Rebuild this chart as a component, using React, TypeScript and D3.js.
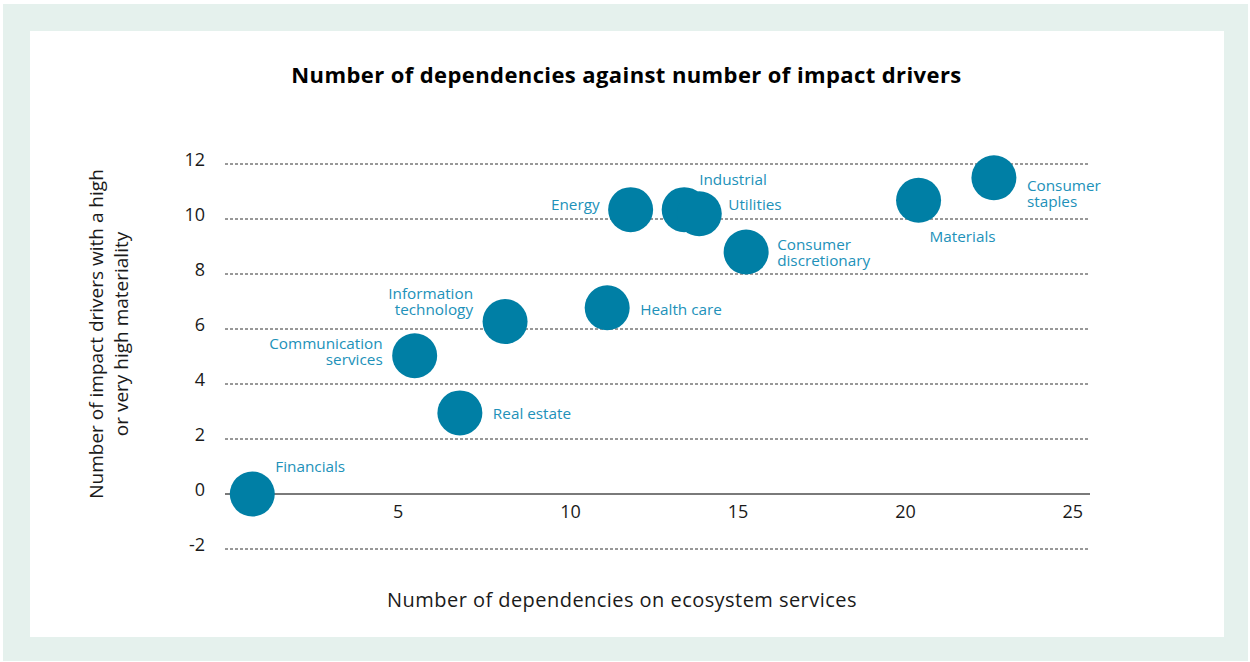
import React from "react";
import * as d3 from "d3";

const sectors = [
  "Financials",
  "Communication services",
  "Real estate",
  "Information technology",
  "Health care",
  "Energy",
  "Industrial",
  "Utilities",
  "Consumer discretionary",
  "Materials",
  "Consumer staples",
];
const dependencies = [0.8, 5.65, 7.0, 8.35, 11.4, 12.1, 13.7, 14.15, 15.55, 20.7, 22.95];
const impactDrivers = [0, 5.03, 2.95, 6.27, 6.77, 10.34, 10.34, 10.19, 8.8, 10.68, 11.5];

const xTicks = [5, 10, 15, 20, 25];
const yTicks = [-2, 0, 2, 4, 6, 8, 10, 12];

const titleText = "Number of dependencies against number of impact drivers";
const xAxisTitle = "Number of dependencies on ecosystem services";
const yAxisTitleLines = ["Number of impact drivers with a high", "or very high materiality"];

// label placement (layout, not data): dx, dy from bubble centre, anchor, lines
const labelLayout: { [k: string]: { dx: number; dy: number; anchor: string; lines: string[] } } = {
  Financials: { dx: 23, dy: -28, anchor: "start", lines: ["Financials"] },
  "Communication services": { dx: -32, dy: -5, anchor: "end", lines: ["Communication", "services"] },
  "Real estate": { dx: 33, dy: 0, anchor: "start", lines: ["Real estate"] },
  "Information technology": { dx: -32, dy: -21, anchor: "end", lines: ["Information", "technology"] },
  "Health care": { dx: 33, dy: 1, anchor: "start", lines: ["Health care"] },
  Energy: { dx: -31, dy: -6, anchor: "end", lines: ["Energy"] },
  Industrial: { dx: 15, dy: -31, anchor: "start", lines: ["Industrial"] },
  Utilities: { dx: 29, dy: -10, anchor: "start", lines: ["Utilities"] },
  "Consumer discretionary": { dx: 31, dy: 0, anchor: "start", lines: ["Consumer", "discretionary"] },
  Materials: { dx: 11, dy: 36, anchor: "start", lines: ["Materials"] },
  "Consumer staples": { dx: 33, dy: 15, anchor: "start", lines: ["Consumer", "staples"] },
};

const W = 1250;
const H = 662;
const FONT = "'Open Sans', 'Noto Sans', sans-serif";

export default function App() {
  const x = d3.scaleLinear().domain([0, 25.82]).range([225.5, 1090]);
  const y = d3.scaleLinear().domain([-2, 12]).range([549, 164]);
  const r = 22.5;
  const bubble = "#007fa5";
  const labelColor = "#2191b9";
  const lineH = 16;

  return (
    <div style={{ position: "absolute", left: 0, top: 0, width: W, height: H }}>
      <svg width={W} height={H} style={{ display: "block", fontFamily: FONT }}>
        <rect x={0} y={0} width={W} height={H} fill="#ffffff" />
        <rect x={3} y={4} width={1245} height={657} fill="#e5f1ed" />
        <rect x={30} y={31} width={1194} height={606} fill="#ffffff" />

        <text
          x={626.5}
          y={83}
          textAnchor="middle"
          fontWeight={700}
          fontSize={22}
          letterSpacing={0.4}
          fill="#000"
        >
          {titleText}
        </text>

        {yTicks
          .filter((t) => t !== 0)
          .map((t) => (
            <line
              key={"g" + t}
              x1={225}
              x2={1090}
              y1={y(t)}
              y2={y(t)}
              stroke="#333"
              strokeWidth={1}
              strokeDasharray="3,2"
            />
          ))}
        <line x1={225} x2={1090} y1={y(0)} y2={y(0)} stroke="#7a7a7a" strokeWidth={2} />

        {yTicks.map((t) => (
          <text
            key={"yl" + t}
            x={205}
            y={y(t) - 5}
            textAnchor="end"
            dominantBaseline="central"
            fontSize={18}
            fill="#1a1a1a"
          >
            {t}
          </text>
        ))}
        {xTicks.map((t) => (
          <text key={"xl" + t} x={x(t)} y={511} textAnchor="start" dominantBaseline="central" fontSize={18} fill="#1a1a1a">
            {t}
          </text>
        ))}

        <text
          x={622}
          y={599}
          textAnchor="middle"
          dominantBaseline="central"
          fontSize={20}
          letterSpacing={0.45}
          fill="#1a1a1a"
        >
          {xAxisTitle}
        </text>
        <g transform="translate(108,334) rotate(-90)">
          {yAxisTitleLines.map((l, i) => (
            <text
              key={l}
              x={0}
              y={(i - 0.5) * 25}
              textAnchor="middle"
              dominantBaseline="central"
              fontSize={19}
              fill="#1a1a1a"
            >
              {l}
            </text>
          ))}
        </g>

        {sectors.map((s, i) => (
          <circle key={"c" + s} cx={x(dependencies[i])} cy={y(impactDrivers[i])} r={r} fill={bubble} />
        ))}

        {sectors.map((s, i) => {
          const L = labelLayout[s];
          const cx = x(dependencies[i]) + L.dx;
          const cy = y(impactDrivers[i]) + L.dy;
          const n = L.lines.length;
          return (
            <g key={"t" + s}>
              {L.lines.map((ln, j) => (
                <text
                  key={j}
                  x={cx}
                  y={cy + (j - (n - 1) / 2) * lineH}
                  textAnchor={L.anchor as any}
                  dominantBaseline="central"
                  fontSize={15.3}
                  fill={labelColor}
                >
                  {ln}
                </text>
              ))}
            </g>
          );
        })}
      </svg>
    </div>
  );
}
